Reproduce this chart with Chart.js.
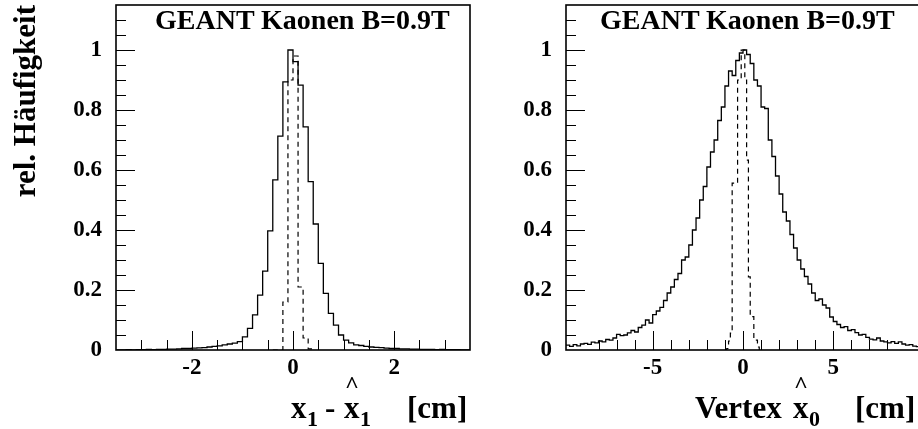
<!DOCTYPE html>
<html>
<head>
<meta charset="utf-8">
<script src="https://cdn.jsdelivr.net/npm/chart.js@4.4.0/dist/chart.umd.min.js"></script>
<style>
  html, body { margin: 0; padding: 0; background: #fff; overflow: hidden; }
  body { width: 918px; height: 429px; position: relative; }
  canvas { position: absolute; top: 0; }
  .lbl { position: absolute; font-family: 'Liberation Serif', 'Times New Roman', serif; font-weight: bold; color: #000; line-height: 1; white-space: nowrap; }
</style>
</head>
<body>
<canvas id="leftChart" width="480" height="429" style="left:0"></canvas>
<canvas id="rightChart" width="460" height="429" style="left:480px"></canvas>

<div class="lbl" style="left:155px; top:6px; font-size:28px">GEANT Kaonen B=0.9T</div>
<div class="lbl" style="left:600px; top:6px; font-size:28px">GEANT Kaonen B=0.9T</div>

<!-- x axis titles -->
<div class="lbl" style="left:291px; top:392px; font-size:31px">x</div>
<div class="lbl" style="left:307px; top:408px; font-size:22px">1</div>
<div class="lbl" style="left:325px; top:392px; font-size:31px">-</div>
<div class="lbl" style="left:344px; top:392px; font-size:31px">x</div>
<div class="lbl" style="left:345px; top:372px; font-size:24px">^</div>
<div class="lbl" style="left:360px; top:408px; font-size:22px">1</div>
<div class="lbl" style="left:407px; top:392px; font-size:31px">[cm]</div>

<div class="lbl" style="left:695px; top:392px; font-size:31px">Vertex</div>
<div class="lbl" style="left:793px; top:392px; font-size:31px">x</div>
<div class="lbl" style="left:794px; top:372px; font-size:24px">^</div>
<div class="lbl" style="left:809px; top:408px; font-size:22px">0</div>
<div class="lbl" style="left:855px; top:392px; font-size:31px">[cm]</div>

<script>
// left panel: x1 - x1^ residual, bins of 0.1 cm starting at -3.5
const leftStart = -3.5;
const leftBinWidth = 0.1;
const leftSolid = [
  0, 0, 0.001, 0, 0.001, 0.001, 0.002, 0.001, 0.002, 0.002,
  0.003, 0.003, 0.004, 0.005, 0.005, 0.006, 0.007, 0.008, 0.01, 0.012,
  0.014, 0.017, 0.02, 0.023, 0.028, 0.044, 0.072, 0.117, 0.183, 0.263,
  0.397, 0.567, 0.713, 0.894, 1.0, 0.961, 0.883, 0.744, 0.561, 0.42,
  0.289, 0.189, 0.122, 0.083, 0.05, 0.033, 0.024, 0.017, 0.015, 0.012,
  0.01, 0.009, 0.008, 0.006, 0.005, 0.005, 0.004, 0.004, 0.003, 0.003,
  0.002, 0.002, 0.002, 0.001, 0.002, 0.001, 0.001, 0.001, 0, 0
];
const leftDashedStart = -0.4;
const leftDashed = [0, 0, 0.16, 0.9, 0.98, 0.21, 0.04, 0.004];

// right panel: vertex x0, bins of 0.2 cm starting at -9.8
const rightStart = -9.8;
const rightBinWidth = 0.2;
const rightSolid = [
  0.016, 0.012, 0.018, 0.014, 0.02, 0.022, 0.019, 0.026, 0.024, 0.03,
  0.027, 0.035, 0.033, 0.04, 0.052, 0.048, 0.05, 0.057, 0.065, 0.06,
  0.075, 0.083, 0.1, 0.09, 0.118, 0.13, 0.142, 0.165, 0.19, 0.21,
  0.235, 0.255, 0.3, 0.31, 0.35, 0.40, 0.44, 0.50, 0.545, 0.61,
  0.66, 0.70, 0.765, 0.81, 0.88, 0.93, 0.915, 0.965, 0.99, 1.0,
  0.985, 0.955, 0.90, 0.88, 0.81, 0.805, 0.70, 0.645, 0.58, 0.52,
  0.46, 0.43, 0.385, 0.34, 0.30, 0.27, 0.245, 0.22, 0.19, 0.165,
  0.17, 0.15, 0.14, 0.11, 0.095, 0.085, 0.075, 0.078, 0.065, 0.068,
  0.058, 0.05, 0.052, 0.042, 0.036, 0.034, 0.04, 0.03, 0.027, 0.024,
  0.028, 0.022, 0.027, 0.02, 0.016, 0.018, 0.013, 0.011
];
const rightDashedStart = -1.0;
const rightDashedWidth = 0.1;
const rightDashed = [
  0, 0.005, 0.03, 0.056, 0.556, 0.556, 0.556, 0.9, 0.9, 1.0,
  1.0, 0.9, 0.633, 0.244, 0.111, 0.111, 0.033, 0.033, 0.01, 0
];

const yTicksMajor = 0.2;
const serif = 'Liberation Serif';

function isMajor(v, step) {
  return Math.abs(v / step - Math.round(v / step)) < 1e-6;
}

// histogram bins -> points at left edges, plus closing point at the last right edge
function toSteps(start, width, values) {
  const pts = values.map((v, i) => ({ x: start + i * width, y: v }));
  pts.push({ x: start + values.length * width, y: values[values.length - 1] });
  return pts;
}

// ticks pointing into the plot, long ones on major values, plus the frame
const innerTicks = {
  id: 'innerTicks',
  afterDatasetsDraw(chart, args, opts) {
    const { ctx, chartArea: area, scales } = chart;
    const sx = scales.x, sy = scales.y;
    ctx.save();
    ctx.strokeStyle = '#000';
    ctx.lineWidth = 1;
    ctx.beginPath();
    sx.ticks.forEach(t => {
      if (t.value <= sx.min || t.value >= sx.max) return;
      const px = Math.round(sx.getPixelForValue(t.value)) + 0.5;
      const len = isMajor(t.value, opts.xMajor) ? 19 : 10;
      ctx.moveTo(px, area.bottom);
      ctx.lineTo(px, area.bottom - len);
    });
    sy.ticks.forEach(t => {
      if (t.value <= sy.min || t.value >= sy.max) return;
      const py = Math.round(sy.getPixelForValue(t.value)) + 0.5;
      const len = isMajor(t.value, opts.yMajor) ? 19 : 10;
      ctx.moveTo(area.left, py);
      ctx.lineTo(area.left + len, py);
    });
    ctx.stroke();
    ctx.lineWidth = 1.6;
    ctx.strokeRect(area.left, area.top, area.right - area.left, area.bottom - area.top);
    ctx.restore();
  }
};

function makeChart(id, cfg) {
  const tickFont = { family: serif, size: 23, weight: 'bold' };
  return new Chart(document.getElementById(id), {
    type: 'line',
    data: {
      datasets: [
        {
          data: cfg.solid,
          borderColor: '#000',
          borderWidth: 1.3,
          stepped: 'before',
          pointRadius: 0,
          fill: false
        },
        {
          data: cfg.dashed,
          borderColor: '#000',
          borderWidth: 1.2,
          borderDash: [5, 4],
          stepped: 'before',
          pointRadius: 0,
          fill: false
        }
      ]
    },
    options: {
      responsive: false,
      animation: false,
      events: [],
      layout: { padding: { left: 0, top: 5, right: cfg.padRight, bottom: 0 } },
      plugins: {
        legend: { display: false },
        tooltip: { enabled: false },
        innerTicks: { xMajor: cfg.xMajor, yMajor: yTicksMajor }
      },
      scales: {
        x: {
          type: 'linear',
          min: cfg.xMin,
          max: cfg.xMax,
          grid: { display: false, drawTicks: false },
          border: { display: false },
          ticks: {
            stepSize: cfg.xStep,
            autoSkip: false,
            maxRotation: 0,
            padding: 4,
            color: '#000',
            font: tickFont,
            callback: v => isMajor(v, cfg.xMajor) ? String(v) : ''
          },
          afterFit: s => {
            s.height = 79;
            s.paddingLeft = 0;
            s.paddingRight = 0;
          }
        },
        y: {
          type: 'linear',
          min: 0,
          max: 1.15,
          grid: { display: false, drawTicks: false },
          border: { display: false },
          ticks: {
            stepSize: 0.05,
            autoSkip: false,
            padding: 14,
            color: '#000',
            font: tickFont,
            callback: v => isMajor(v, yTicksMajor) ? String(Math.round(v * 10) / 10) : ''
          },
          title: {
            display: cfg.yTitle !== '',
            text: cfg.yTitle,
            align: 'end',
            color: '#000',
            padding: { top: 8, bottom: 0 },
            font: { family: serif, size: 31, weight: 'bold' }
          },
          afterFit: s => {
            s.width = cfg.yWidth;
            s.paddingTop = 0;
            s.paddingBottom = 0;
          }
        }
      }
    },
    plugins: [innerTicks]
  });
}

makeChart('leftChart', {
  solid: toSteps(leftStart, leftBinWidth, leftSolid),
  dashed: toSteps(leftDashedStart, leftBinWidth, leftDashed),
  xMin: -3.5, xMax: 3.5, xStep: 0.5, xMajor: 2,
  yWidth: 116, padRight: 10,
  yTitle: 'rel. Häufigkeit'
});

makeChart('rightChart', {
  solid: toSteps(rightStart, rightBinWidth, rightSolid),
  dashed: toSteps(rightDashedStart, rightDashedWidth, rightDashed),
  xMin: -9.8, xMax: 9.8, xStep: 1, xMajor: 5,
  yWidth: 86, padRight: 20,
  yTitle: ''
});
</script>
</body>
</html>
